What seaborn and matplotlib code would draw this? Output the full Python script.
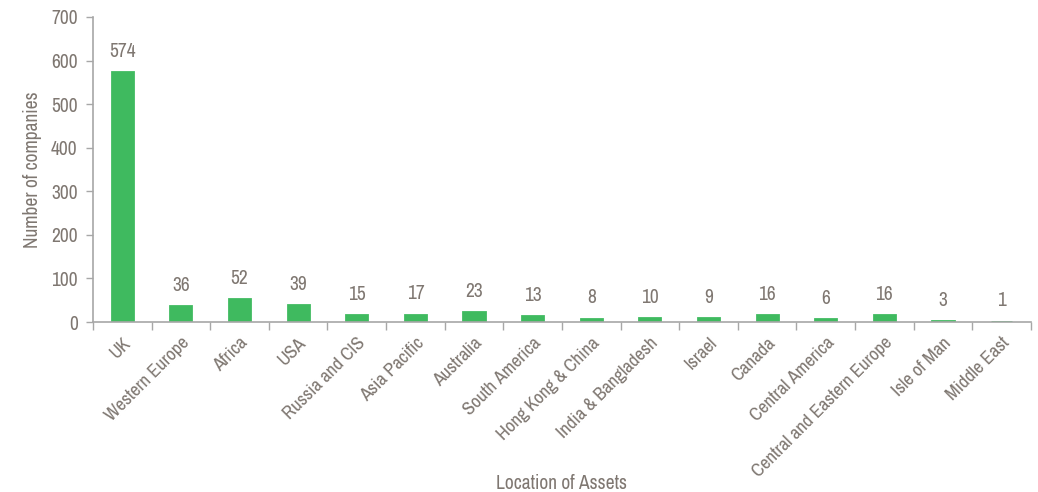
import matplotlib
matplotlib.use('Agg')
import matplotlib.pyplot as plt
import seaborn as sns
import pandas as pd
import numpy as np

locations = ['UK', 'Western Europe', 'Africa', 'USA', 'Russia and CIS', 'Asia Pacific',
             'Australia', 'South America', 'Hong Kong & China', 'India & Bangladesh',
             'Israel', 'Canada', 'Central America', 'Central and Eastern Europe',
             'Isle of Man', 'Middle East']
companies = [574, 36, 52, 39, 15, 17, 23, 13, 8, 10, 9, 16, 6, 16, 3, 1]

sns.set_style('white')
plt.rcParams['font.family'] = ['Archivo Narrow', 'DejaVu Sans']

text_col = '#7f7771'
axis_col = '#a7a7a7'
bar_col = '#3fba5f'

df = pd.DataFrame({'loc': locations, 'n': companies})

fig = plt.figure(figsize=(10.38, 4.92), dpi=100)
ax = fig.add_axes([0.0896, 0.3455, 0.9036, 0.62])

sns.barplot(data=df, x='loc', y='n', color=bar_col, width=0.36, saturation=1,
            edgecolor=bar_col, linewidth=2, ax=ax)
ax.bar_label(ax.containers[0], padding=8, fontsize=14, color=text_col)

ax.set_ylim(0, 700)
ax.set_xlim(-0.5, len(locations) - 0.5)
ax.set_yticks(range(0, 701, 100))
ax.set_xticks(np.arange(len(locations) + 1) - 0.5, minor=True)
ax.set_xticks(range(len(locations)))
ax.set_xticklabels(locations, rotation=45, ha='right', rotation_mode='anchor')
ax.tick_params(axis='x', which='major', length=0, pad=9, labelsize=13.5, labelcolor=text_col)
ax.tick_params(axis='x', which='minor', length=6, width=1, color=axis_col, direction='out', bottom=True)
ax.tick_params(axis='y', length=5, width=1, color=axis_col, labelsize=14, labelcolor=text_col,
               left=True, direction='out', pad=6)

for s in ['top', 'right']:
    ax.spines[s].set_visible(False)
for s in ['left', 'bottom']:
    ax.spines[s].set_color(axis_col)
    ax.spines[s].set_linewidth(1.2)

ax.set_xlabel('Location of Assets', fontsize=14, color=text_col, va='center')
ax.set_ylabel('Number of companies', fontsize=14, color=text_col, va='center')
ax.xaxis.set_label_coords(0.5, -0.528)
ax.yaxis.set_label_coords(-0.065, 0.5)

fig.savefig('out.png', dpi=100)
